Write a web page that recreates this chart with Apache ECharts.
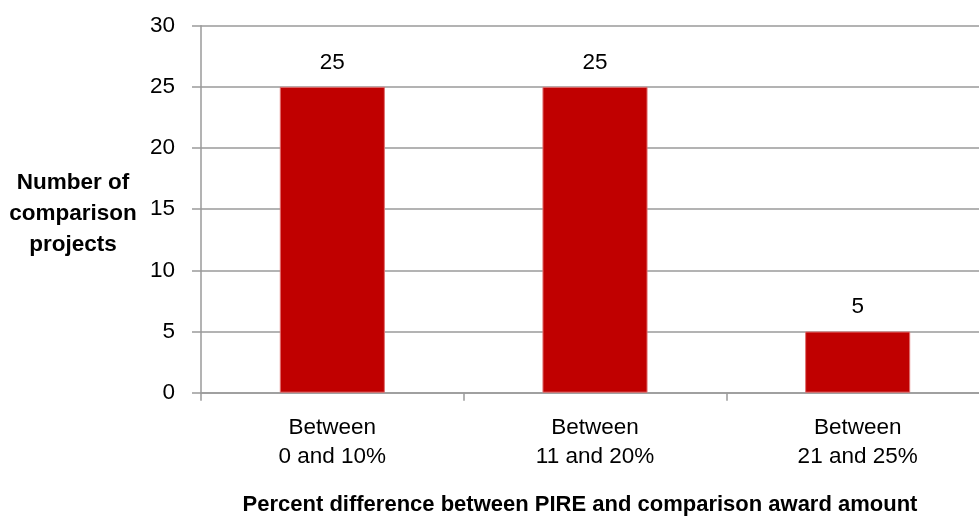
<!DOCTYPE html>
<html><head><meta charset="utf-8">
<script src="https://cdn.jsdelivr.net/npm/echarts@6/dist/echarts.min.js"></script>
<style>html,body{margin:0;padding:0;background:#fff}#c{width:979px;height:523px}</style>
</head><body><div id="c"></div>
<script>
const categories = ['Between\n0 and 10%', 'Between\n11 and 20%', 'Between\n21 and 25%'];
const values = [25, 25, 5];
const yTicks = [0, 5, 10, 15, 20, 25, 30];
const yTitle = 'Number of\ncomparison\nprojects';
const xTitle = 'Percent difference between PIRE and comparison award amount';

const FONT = '"Liberation Sans", Arial, sans-serif';
const chart = echarts.init(document.getElementById('c'), null, {renderer: 'canvas'});
chart.setOption({
  animation: false,
  grid: {left: 201, top: 25.7, width: 788, height: 367, containLabel: false, outerBoundsMode: 'none'},
  xAxis: {
    type: 'category', data: categories, boundaryGap: true,
    axisLine: {lineStyle: {color: '#9a9a9a', width: 1.5}},
    axisTick: {show: true, length: 8, lineStyle: {color: '#9a9a9a', width: 1.5}},
    axisLabel: {fontFamily: FONT, fontSize: 22.5, color: '#000', margin: 21, lineHeight: 29, interval: 0}
  },
  yAxis: {
    type: 'value', min: yTicks[0], max: yTicks[yTicks.length - 1], interval: 5,
    axisLine: {show: true, lineStyle: {color: '#9a9a9a', width: 1.5}},
    axisTick: {show: true, length: 9, inside: false, lineStyle: {color: '#9a9a9a', width: 1.5}},
    splitLine: {lineStyle: {color: '#9a9a9a', width: 1.5}},
    axisLabel: {fontFamily: FONT, fontSize: 22.5, color: '#000', margin: 26}
  },
  series: [{
    type: 'bar', data: values, barWidth: '40%',
    itemStyle: {color: '#C00000', borderColor: '#e07070', borderWidth: 1},
    label: {show: true, position: 'top', distance: 13, fontFamily: FONT, fontSize: 22.5, color: '#000'}
  }],
  graphic: [
    {type: 'text', x: 73, y: 214, style: {text: yTitle, fontFamily: FONT, fontSize: 22.5, fontWeight: 'bold', fill: '#000', align: 'center', verticalAlign: 'middle', lineHeight: 31}},
    {type: 'text', x: 580, y: 505, style: {text: xTitle, fontFamily: FONT, fontSize: 22, fontWeight: 'bold', fill: '#000', align: 'center', verticalAlign: 'middle'}}
  ]
});
</script></body></html>
